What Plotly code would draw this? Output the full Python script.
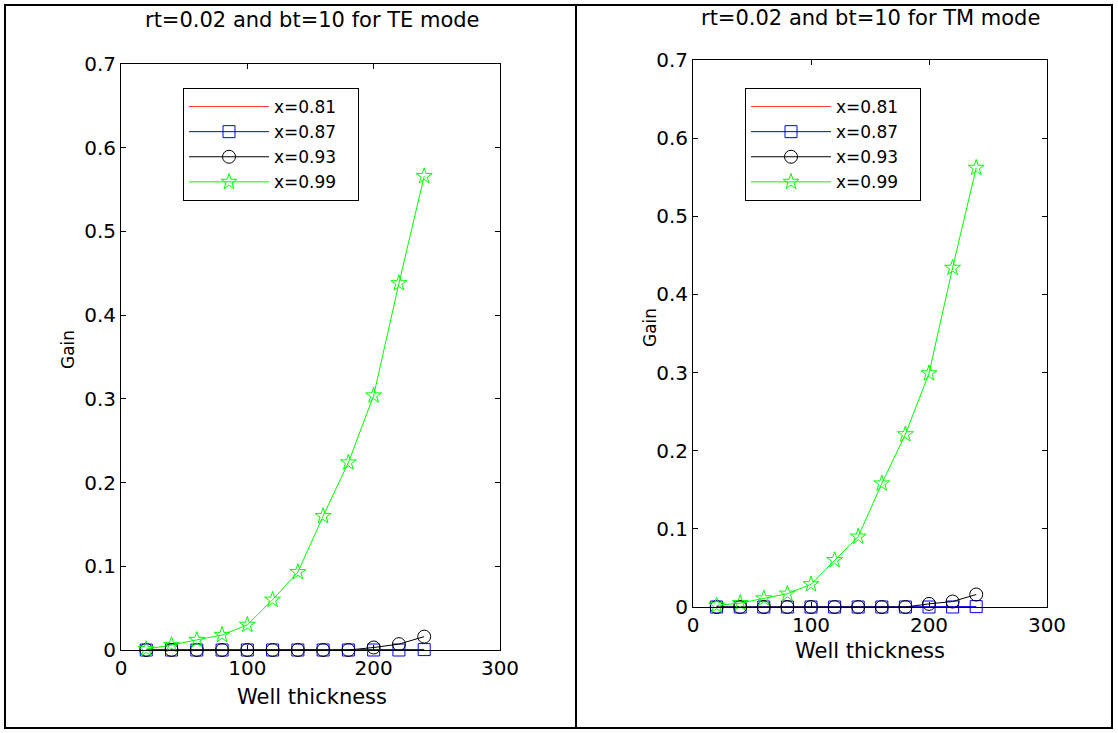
import plotly.graph_objects as go

W, H = 1118, 733

thickness = [20, 40, 60, 80, 100, 120, 140, 160, 180, 200, 220, 240]

te_x081 = [0, 0, 0, 0, 0, 0, 0, 0, 0, 0, 0, 0]
te_x087 = [0, 0, 0, 0, 0, 0, 0, 0, 0, 0, 0, 0.0005]
te_x093 = [0, 0, 0, 0, 0, 0, 0, 0, 0, 0.003, 0.007, 0.016]
te_x099 = [0.001, 0.006, 0.012, 0.018, 0.030, 0.060, 0.093, 0.160, 0.224, 0.304, 0.438, 0.566]

tm_x081 = [0, 0, 0, 0, 0, 0, 0, 0, 0, 0, 0, 0]
tm_x087 = [0, 0, 0, 0, 0, 0, 0, 0, 0, 0, 0, 0.0005]
tm_x093 = [0, 0, 0, 0, 0, 0, 0, 0, 0, 0.004, 0.007, 0.016]
tm_x099 = [0.002, 0.005, 0.011, 0.017, 0.029, 0.060, 0.090, 0.158, 0.221, 0.299, 0.434, 0.562]

labels = ["x=0.81", "x=0.87", "x=0.93", "x=0.99"]
titles = ["rt=0.02 and bt=10 for TE mode", "rt=0.02 and bt=10 for TM mode"]
x_ticks = [0, 100, 200, 300]
y_ticks = [0, 0.1, 0.2, 0.3, 0.4, 0.5, 0.6, 0.7]

colors = ["#ff0000", "#0000ff", "#000000", "#00ff00"]
symbols = [None, "square-open", "circle-open", "star-open"]
msizes = [0, 12, 13, 12]
FONT = "DejaVu Sans, Arial, sans-serif"
PAD = "\u00a0" * 3  # right padding inside the legend box

fig = go.Figure()

panels = [
    (["x", "y"], [te_x081, te_x087, te_x093, te_x099], "legend"),
    (["x2", "y2"], [tm_x081, tm_x087, tm_x093, tm_x099], "legend2"),
]
for (xa, ya), series, leg in panels:
    for i, vals in enumerate(series):
        kw = dict(x=thickness, y=vals, name=labels[i] + PAD, xaxis=xa, yaxis=ya,
                  legend=leg, cliponaxis=False)
        if symbols[i] is None:
            kw["mode"] = "lines"
            kw["line"] = dict(color=colors[i], width=0.8)
        else:
            kw["mode"] = "lines+markers"
            kw["line"] = dict(color=colors[i], width=1)
            kw["marker"] = dict(symbol=symbols[i], size=msizes[i], color=colors[i],
                                line=dict(color=colors[i], width=1))
        fig.add_trace(go.Scatter(**kw))

def px_x(p):
    return p / W

def px_y(p):
    return 1 - p / H

TICKFONT = dict(size=20, color="black", family=FONT)
axis_common = dict(range=[0, 300], tickvals=x_ticks, ticks="inside", ticklen=5,
                   showline=True, linecolor="black", linewidth=1, mirror="ticks",
                   showgrid=False, zeroline=False, tickcolor="black",
                   automargin=False, tickfont=TICKFONT)
yaxis_common = dict(range=[0, 0.7], tickvals=y_ticks, ticks="inside", ticklen=5,
                    showline=True, linecolor="black", linewidth=1, mirror="ticks",
                    showgrid=False, zeroline=False, tickcolor="black",
                    automargin=False, tickfont=TICKFONT)

LEGFONT = dict(size=17, family=FONT, color="black")
fig.update_layout(
    width=W, height=H,
    margin=dict(l=0, r=0, t=0, b=0, autoexpand=False),
    paper_bgcolor="white", plot_bgcolor="white",
    font=dict(family=FONT, color="black"),
    xaxis=dict(domain=[px_x(121), px_x(500)], anchor="y", **axis_common),
    yaxis=dict(domain=[px_y(650), px_y(64)], anchor="x", **yaxis_common),
    xaxis2=dict(domain=[px_x(693), px_x(1047)], anchor="y2", **axis_common),
    yaxis2=dict(domain=[px_y(607), px_y(60)], anchor="x2", **yaxis_common),
    legend=dict(x=px_x(183), y=px_y(88), xanchor="left", yanchor="top",
                bordercolor="black", borderwidth=1, bgcolor="white",
                font=LEGFONT, itemwidth=80, tracegroupgap=0),
    legend2=dict(x=px_x(745), y=px_y(88), xanchor="left", yanchor="top",
                 bordercolor="black", borderwidth=1, bgcolor="white",
                 font=LEGFONT, itemwidth=80, tracegroupgap=0),
    showlegend=True,
)

ann = [
    (312, 20, titles[0], 0, 21),
    (870, 18, titles[1], 0, 21),
    (312, 697, "Well thickness", 0, 21),
    (870, 651, "Well thickness", 0, 21),
    (68, 350, "Gain", -90, 17),
    (650, 328, "Gain", -90, 17),
]
for x, y, t, rot, size in ann:
    fig.add_annotation(x=px_x(x), y=px_y(y), xref="paper", yref="paper",
                       text=t, showarrow=False, textangle=rot,
                       xanchor="center", yanchor="middle",
                       font=dict(size=size, color="black", family=FONT))

fig.add_shape(type="rect", xref="paper", yref="paper",
              x0=px_x(5), x1=px_x(1112), y0=px_y(728), y1=px_y(5),
              line=dict(color="black", width=2))
fig.add_shape(type="line", xref="paper", yref="paper",
              x0=px_x(576), x1=px_x(576), y0=px_y(728), y1=px_y(5),
              line=dict(color="black", width=2))

fig.write_html("out.html")
